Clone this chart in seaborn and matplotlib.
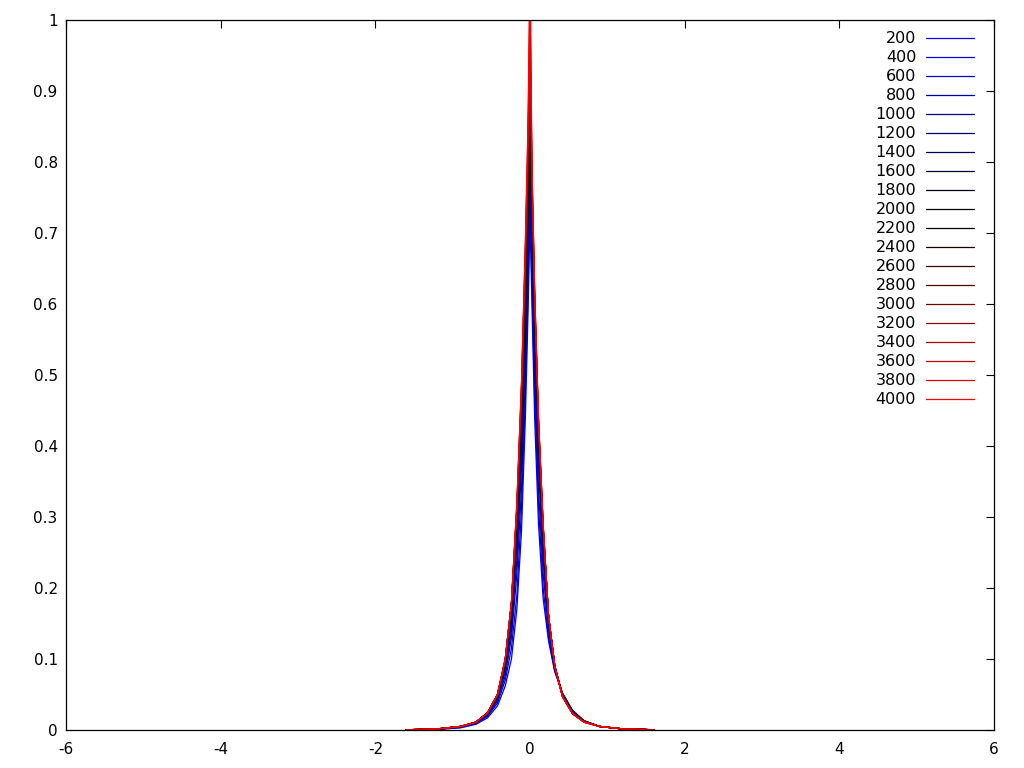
import numpy as np
import pandas as pd
import matplotlib
matplotlib.use("Agg")
import matplotlib.pyplot as plt
import seaborn as sns

## ------------------------------------------------------------------ ##
## data (one shared x grid, one y list per series)
## ------------------------------------------------------------------ ##
x_grid = [-1.6, -1.2, -0.9, -0.7, -0.55, -0.42, -0.32, -0.24, -0.17, -0.11, -0.06, -0.025, 0.0,
          0.025, 0.06, 0.11, 0.17, 0.24, 0.32, 0.42, 0.55, 0.7, 0.9, 1.2, 1.6]

labels = ["200", "400", "600", "800", "1000", "1200", "1400", "1600", "1800", "2000",
          "2200", "2400", "2600", "2800", "3000", "3200", "3400", "3600", "3800", "4000"]

y200 = [0.0001, 0.0008, 0.003, 0.008, 0.017, 0.034, 0.062, 0.10, 0.17, 0.28, 0.44, 0.59, 0.72,
        0.60, 0.44, 0.29, 0.185, 0.125, 0.082, 0.052, 0.028, 0.013, 0.005, 0.0015, 0.0004]
y400 = [0.0001, 0.0009, 0.0035, 0.009, 0.019, 0.038, 0.07, 0.115, 0.19, 0.31, 0.47, 0.62, 0.75,
        0.63, 0.47, 0.315, 0.20, 0.13, 0.083, 0.052, 0.027, 0.013, 0.005, 0.0015, 0.0004]
y600 = [0.0002, 0.001, 0.004, 0.0095, 0.02, 0.041, 0.076, 0.13, 0.22, 0.34, 0.50, 0.65, 0.77,
        0.66, 0.50, 0.34, 0.22, 0.14, 0.085, 0.051, 0.026, 0.013, 0.005, 0.0015, 0.0004]
y800 = [0.0002, 0.0011, 0.0042, 0.01, 0.021, 0.043, 0.082, 0.14, 0.24, 0.37, 0.53, 0.68, 0.79,
        0.68, 0.53, 0.37, 0.24, 0.145, 0.087, 0.05, 0.025, 0.012, 0.005, 0.0015, 0.0004]
y1000 = [0.0002, 0.0012, 0.0044, 0.0102, 0.022, 0.045, 0.086, 0.15, 0.26, 0.39, 0.55, 0.70, 0.81,
         0.70, 0.55, 0.39, 0.25, 0.15, 0.088, 0.05, 0.025, 0.012, 0.005, 0.0015, 0.0003]
y1200 = [0.0002, 0.0013, 0.0046, 0.0104, 0.0225, 0.046, 0.089, 0.158, 0.27, 0.41, 0.57, 0.71, 0.82,
         0.71, 0.56, 0.40, 0.26, 0.155, 0.089, 0.05, 0.025, 0.012, 0.005, 0.0015, 0.0003]
y1400 = [0.0003, 0.0013, 0.0047, 0.0106, 0.023, 0.047, 0.092, 0.163, 0.28, 0.42, 0.58, 0.72, 0.83,
         0.72, 0.57, 0.41, 0.27, 0.157, 0.09, 0.049, 0.024, 0.012, 0.005, 0.0015, 0.0003]
y1600 = [0.0003, 0.0014, 0.0048, 0.0107, 0.0235, 0.048, 0.094, 0.167, 0.29, 0.43, 0.59, 0.73, 0.84,
         0.73, 0.58, 0.41, 0.275, 0.158, 0.09, 0.049, 0.024, 0.012, 0.005, 0.0015, 0.0003]
y1800 = [0.0003, 0.0015, 0.005, 0.0108, 0.024, 0.049, 0.096, 0.171, 0.295, 0.44, 0.60, 0.74, 0.85,
         0.735, 0.585, 0.415, 0.278, 0.16, 0.09, 0.048, 0.024, 0.012, 0.005, 0.0015, 0.0003]
y2000 = [0.0003, 0.0015, 0.005, 0.011, 0.024, 0.05, 0.098, 0.175, 0.30, 0.45, 0.61, 0.75, 0.86,
         0.74, 0.59, 0.42, 0.28, 0.16, 0.09, 0.048, 0.024, 0.012, 0.005, 0.0015, 0.0003]
y2200 = [0.0003, 0.0015, 0.005, 0.011, 0.024, 0.05, 0.098, 0.176, 0.302, 0.455, 0.62, 0.76, 0.87,
         0.745, 0.593, 0.422, 0.281, 0.16, 0.09, 0.048, 0.024, 0.012, 0.005, 0.0015, 0.0003]
y2400 = [0.0003, 0.0015, 0.005, 0.011, 0.024, 0.05, 0.098, 0.176, 0.304, 0.46, 0.63, 0.77, 0.89,
         0.75, 0.596, 0.424, 0.282, 0.16, 0.09, 0.048, 0.024, 0.012, 0.005, 0.0015, 0.0003]
y2600 = [0.0003, 0.0015, 0.005, 0.011, 0.024, 0.05, 0.099, 0.177, 0.306, 0.465, 0.64, 0.78, 0.91,
         0.755, 0.599, 0.426, 0.283, 0.16, 0.09, 0.048, 0.024, 0.012, 0.005, 0.0015, 0.0003]
y2800 = [0.0003, 0.0015, 0.005, 0.011, 0.024, 0.05, 0.099, 0.177, 0.308, 0.47, 0.645, 0.79, 0.93,
         0.76, 0.602, 0.428, 0.284, 0.16, 0.09, 0.048, 0.024, 0.012, 0.005, 0.0015, 0.0003]
y3000 = [0.0003, 0.0015, 0.005, 0.011, 0.024, 0.05, 0.099, 0.178, 0.31, 0.47, 0.65, 0.80, 0.95,
         0.77, 0.605, 0.43, 0.285, 0.16, 0.09, 0.047, 0.023, 0.011, 0.005, 0.0015, 0.0003]
y3200 = [0.0003, 0.0015, 0.005, 0.011, 0.024, 0.05, 0.10, 0.178, 0.312, 0.475, 0.66, 0.81, 0.97,
         0.775, 0.608, 0.432, 0.286, 0.16, 0.09, 0.047, 0.023, 0.011, 0.005, 0.0015, 0.0003]
y3400 = [0.0003, 0.0015, 0.005, 0.011, 0.024, 0.05, 0.10, 0.179, 0.314, 0.48, 0.67, 0.82, 1.00,
         0.78, 0.611, 0.434, 0.287, 0.16, 0.09, 0.047, 0.023, 0.011, 0.005, 0.0015, 0.0003]
y3600 = [0.0003, 0.0015, 0.005, 0.011, 0.024, 0.05, 0.10, 0.179, 0.316, 0.483, 0.675, 0.83, 1.02,
         0.785, 0.614, 0.436, 0.288, 0.16, 0.09, 0.047, 0.023, 0.011, 0.005, 0.0015, 0.0003]
y3800 = [0.0003, 0.0015, 0.005, 0.011, 0.024, 0.05, 0.10, 0.18, 0.318, 0.487, 0.68, 0.845, 1.05,
         0.79, 0.617, 0.438, 0.289, 0.16, 0.09, 0.047, 0.023, 0.011, 0.005, 0.0015, 0.0003]
y4000 = [0.0003, 0.0015, 0.005, 0.011, 0.024, 0.05, 0.10, 0.18, 0.32, 0.49, 0.69, 0.86, 1.08,
         0.80, 0.62, 0.44, 0.29, 0.16, 0.09, 0.047, 0.023, 0.011, 0.005, 0.0015, 0.0003]

series = [y200, y400, y600, y800, y1000, y1200, y1400, y1600, y1800, y2000,
          y2200, y2400, y2600, y2800, y3000, y3200, y3400, y3600, y3800, y4000]

# blue -> black -> red ramp, as in the legend
colors = ["#0000ff", "#0000e3", "#0000c6", "#0000aa", "#00008e",
          "#000071", "#000055", "#000039", "#00001c", "#000000",
          "#000000", "#1c0000", "#390000", "#550000", "#710000",
          "#8e0000", "#aa0000", "#c60000", "#e30000", "#ff0000"]

## ------------------------------------------------------------------ ##
## plot
## ------------------------------------------------------------------ ##
sns.set_style("white")
plt.rcParams["font.family"] = ["DejaVu Sans"]
plt.rcParams["axes.unicode_minus"] = False
fontsize = 11

fig, ax = plt.subplots(figsize=(10.24, 7.68), dpi=100)
fig.subplots_adjust(left=66 / 1024, right=994 / 1024, top=1 - 20 / 768, bottom=1 - 730 / 768)

for y, lab, c in zip(series, labels, colors):
    df = pd.DataFrame({"x": x_grid, "y": y})
    sns.lineplot(data=df, x="x", y="y", color=c, linewidth=0.9, label=lab, ax=ax)

ax.set_xlim(-6, 6)
ax.set_ylim(0, 1)
ax.set_xticks(np.arange(-6, 7, 2))
ax.set_yticks(np.round(np.arange(0, 1.01, 0.1), 1))
ax.set_yticklabels(["0", "0.1", "0.2", "0.3", "0.4", "0.5", "0.6", "0.7", "0.8", "0.9", "1"])
ax.set_xlabel("")
ax.set_ylabel("")
ax.tick_params(direction="in", top=True, right=True, length=6, width=0.8,
               labelsize=fontsize, colors="black")
ax.tick_params(axis="x", pad=9)
ax.tick_params(axis="y", pad=6)
for sp in ax.spines.values():
    sp.set_color("black")
    sp.set_linewidth(0.9)

leg = ax.legend(loc="upper right", frameon=False, markerfirst=False, fontsize=11.5,
                handlelength=3.0, handletextpad=0.6, labelspacing=0.25,
                borderaxespad=0.0, bbox_to_anchor=(0.985, 0.993))
for t in leg.get_texts():
    t.set_ha("right")
    t.set_color("black")

fig.savefig("out.png", dpi=100)
